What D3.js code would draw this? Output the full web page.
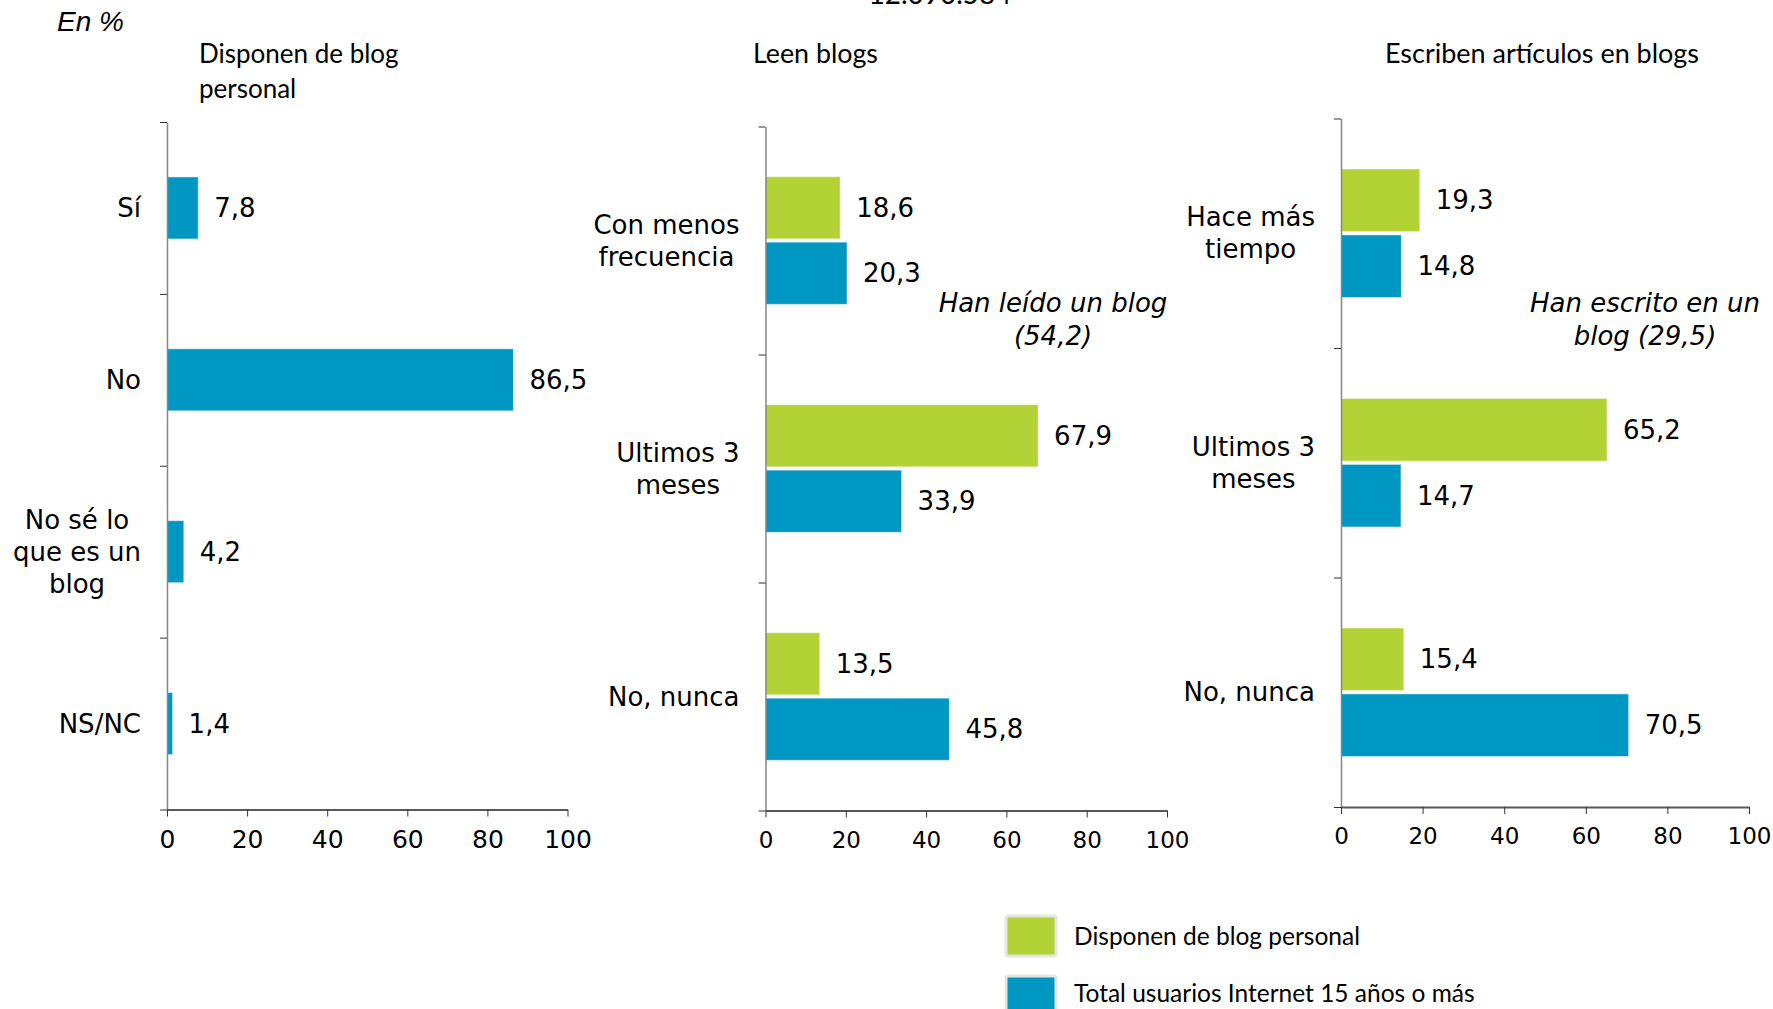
<!DOCTYPE html>
<html lang="es">
<head>
<meta charset="utf-8">
<title>Blogs</title>
<script src="https://cdn.jsdelivr.net/npm/d3@7"></script>
<style>
    body { margin: 0; background: #fff; }
    svg text { fill: #000; }
    .cat, .val { font-family: "DejaVu Sans", Verdana, sans-serif; font-size: 26px; }
    .tick text { font-family: "DejaVu Sans", Verdana, sans-serif; fill: #000; }
    .ttl, .leg { font-family: Lato, sans-serif; }
    .note { font-family: "DejaVu Sans", sans-serif; font-style: italic; font-size: 26px; }
</style>
</head>
<body>
<svg id="chart" width="1773" height="1009"></svg>
<script>
    // datos
    var series = ["Disponen de blog personal", "Total usuarios Internet 15 años o más"];
    var colors = ["#b2d235", "#0098c2"];
    var xTicks = [0, 20, 40, 60, 80, 100];

    var tenenciaCats = [["Sí"], ["No"], ["No sé lo", "que es un", "blog"], ["NS/NC"]];
    var tenenciaTotal = [7.8, 86.5, 4.2, 1.4];

    var lecturaCats = [["Con menos", "frecuencia"], ["Ultimos 3", "meses"], ["No, nunca"]];
    var lecturaBlog = [18.6, 67.9, 13.5];
    var lecturaTotal = [20.3, 33.9, 45.8];

    var escrituraCats = [["Hace más", "tiempo"], ["Ultimos 3", "meses"], ["No, nunca"]];
    var escrituraBlog = [19.3, 65.2, 15.4];
    var escrituraTotal = [14.8, 14.7, 70.5];

    var es = d3.formatLocale({decimal: ",", thousands: ".", grouping: [3], currency: ["", "€"]});
    var fmt = es.format(".1f");

    var svg = d3.select("#chart");

    function panel(o) {
        var g = svg.append("g");
        var n = o.cats.length;
        var x = d3.scaleLinear().domain([0, 100]).range([o.x0, o.x1]);
        var yl = d3.scaleLinear().domain([0, n]).range([o.y0, o.y1]);
        var y = d3.scaleBand().domain(d3.range(n)).range([o.y0, o.y1])
            .paddingInner(o.pad).paddingOuter(o.pad / 2);
        var ys = d3.scaleBand().domain(d3.range(o.vals.length)).range([0, y.bandwidth()]).paddingInner(0.05);

        o.vals.forEach(function (vals, s) {
            var rows = g.append("g").selectAll("g").data(vals).enter().append("g");
            rows.append("rect")
                .attr("x", x(0))
                .attr("y", function (d, i) { return y(i) + ys(s); })
                .attr("width", function (d) { return x(d) - x(0); })
                .attr("height", ys.bandwidth())
                .attr("fill", o.colors[s])
                .attr("stroke", "#fff").attr("stroke-opacity", 0.5);
            rows.append("text").attr("class", "val")
                .attr("x", function (d) { return x(d) + 16; })
                .attr("y", function (d, i) { return y(i) + ys(s) + ys.bandwidth() / 2; })
                .attr("dy", "0.35em")
                .text(function (d) { return fmt(d); });
        });

        // etiquetas de categoria, centradas y alineadas a la derecha
        o.cats.forEach(function (lines, i) {
            var t = g.append("text").attr("class", "cat").attr("text-anchor", "middle");
            var cy = yl(i + 0.5) - (lines.length - 1) * 16;
            var sp = lines.map(function (l, k) {
                return t.append("tspan").attr("y", cy + k * 32).attr("dy", "0.35em").text(l);
            });
            var w = d3.max(sp, function (s) { return s.node().getComputedTextLength(); });
            sp.forEach(function (s) { s.attr("x", o.x0 - 26 - w / 2); });
        });

        var ya = g.append("g").attr("transform", "translate(" + o.x0 + ",0)")
            .call(d3.axisLeft(yl).tickValues(d3.range(n + 1)).tickFormat("").tickSize(7).tickSizeOuter(0));
        ya.select(".domain").attr("stroke", "#868686").attr("stroke-width", 1.5);
        ya.selectAll(".tick line").attr("stroke", "#333");

        var xa = g.append("g").attr("transform", "translate(0," + o.y1 + ")")
            .call(d3.axisBottom(x).tickValues(xTicks).tickSize(7).tickSizeOuter(0).tickPadding(14));
        xa.select(".domain").attr("stroke", "#595959").attr("stroke-width", 2);
        xa.selectAll(".tick line").attr("stroke", "#333");
        xa.selectAll(".tick text").style("font-size", o.tickSize + "px");

        var tt = g.append("text").attr("class", "ttl").style("font-size", "26px");
        o.title.forEach(function (l, k) {
            tt.append("tspan").attr("x", o.tx).attr("y", 63 + k * 35).text(l);
        });
        if (o.tw) tt.attr("textLength", o.tw).attr("lengthAdjust", "spacingAndGlyphs");

        if (o.note) {
            var nt = g.append("text").attr("class", "note").attr("text-anchor", "middle");
            o.note.forEach(function (l, k) {
                nt.append("tspan").attr("x", o.nx).attr("y", 303 + k * 33).attr("dy", "0.35em").text(l);
            });
        }
    }

    panel({cats: tenenciaCats, vals: [tenenciaTotal], colors: [colors[1]],
        x0: 167, x1: 567.5, y0: 122, y1: 809.5, pad: 0.62, tickSize: 25,
        title: ["Disponen de blog", "personal"], tx: 199});

    panel({cats: lecturaCats, vals: [lecturaBlog, lecturaTotal], colors: colors,
        x0: 765.5, x1: 1167, y0: 126.5, y1: 810.5, pad: 0.44, tickSize: 23,
        title: ["Leen blogs"], tx: 753, tw: 125,
        note: ["Han leído un blog", "(54,2)"], nx: 1053});

    panel({cats: escrituraCats, vals: [escrituraBlog, escrituraTotal], colors: colors,
        x0: 1341, x1: 1749, y0: 118.5, y1: 807, pad: 0.44, tickSize: 23,
        title: ["Escriben artículos en blogs"], tx: 1385, tw: 314,
        note: ["Han escrito en un", "blog (29,5)"], nx: 1645});

    svg.append("text").attr("x", 57).attr("y", 31)
        .style("font-family", "'Liberation Sans', Arial, sans-serif").style("font-style", "italic")
        .style("font-size", "28px").text("En %");

    svg.append("text").attr("class", "ttl").attr("x", 940).attr("y", 4)
        .attr("text-anchor", "middle").style("font-size", "28px").text("12.090.584");

    // leyenda
    var leg = svg.append("g").selectAll("g").data(series).enter().append("g")
        .attr("transform", function (d, i) { return "translate(1006," + (916 + i * 60) + ")"; });
    leg.append("rect").attr("width", 50).attr("height", 40).attr("rx", 2)
        .attr("fill", function (d, i) { return colors[i]; })
        .attr("stroke", "#e6e6dc").attr("stroke-width", 3);
    leg.append("text").attr("class", "leg").attr("x", 68).attr("y", function (d, i) { return 29 - i * 3; })
        .style("font-size", "24.5px").text(function (d) { return d; });
</script>
</body>
</html>
